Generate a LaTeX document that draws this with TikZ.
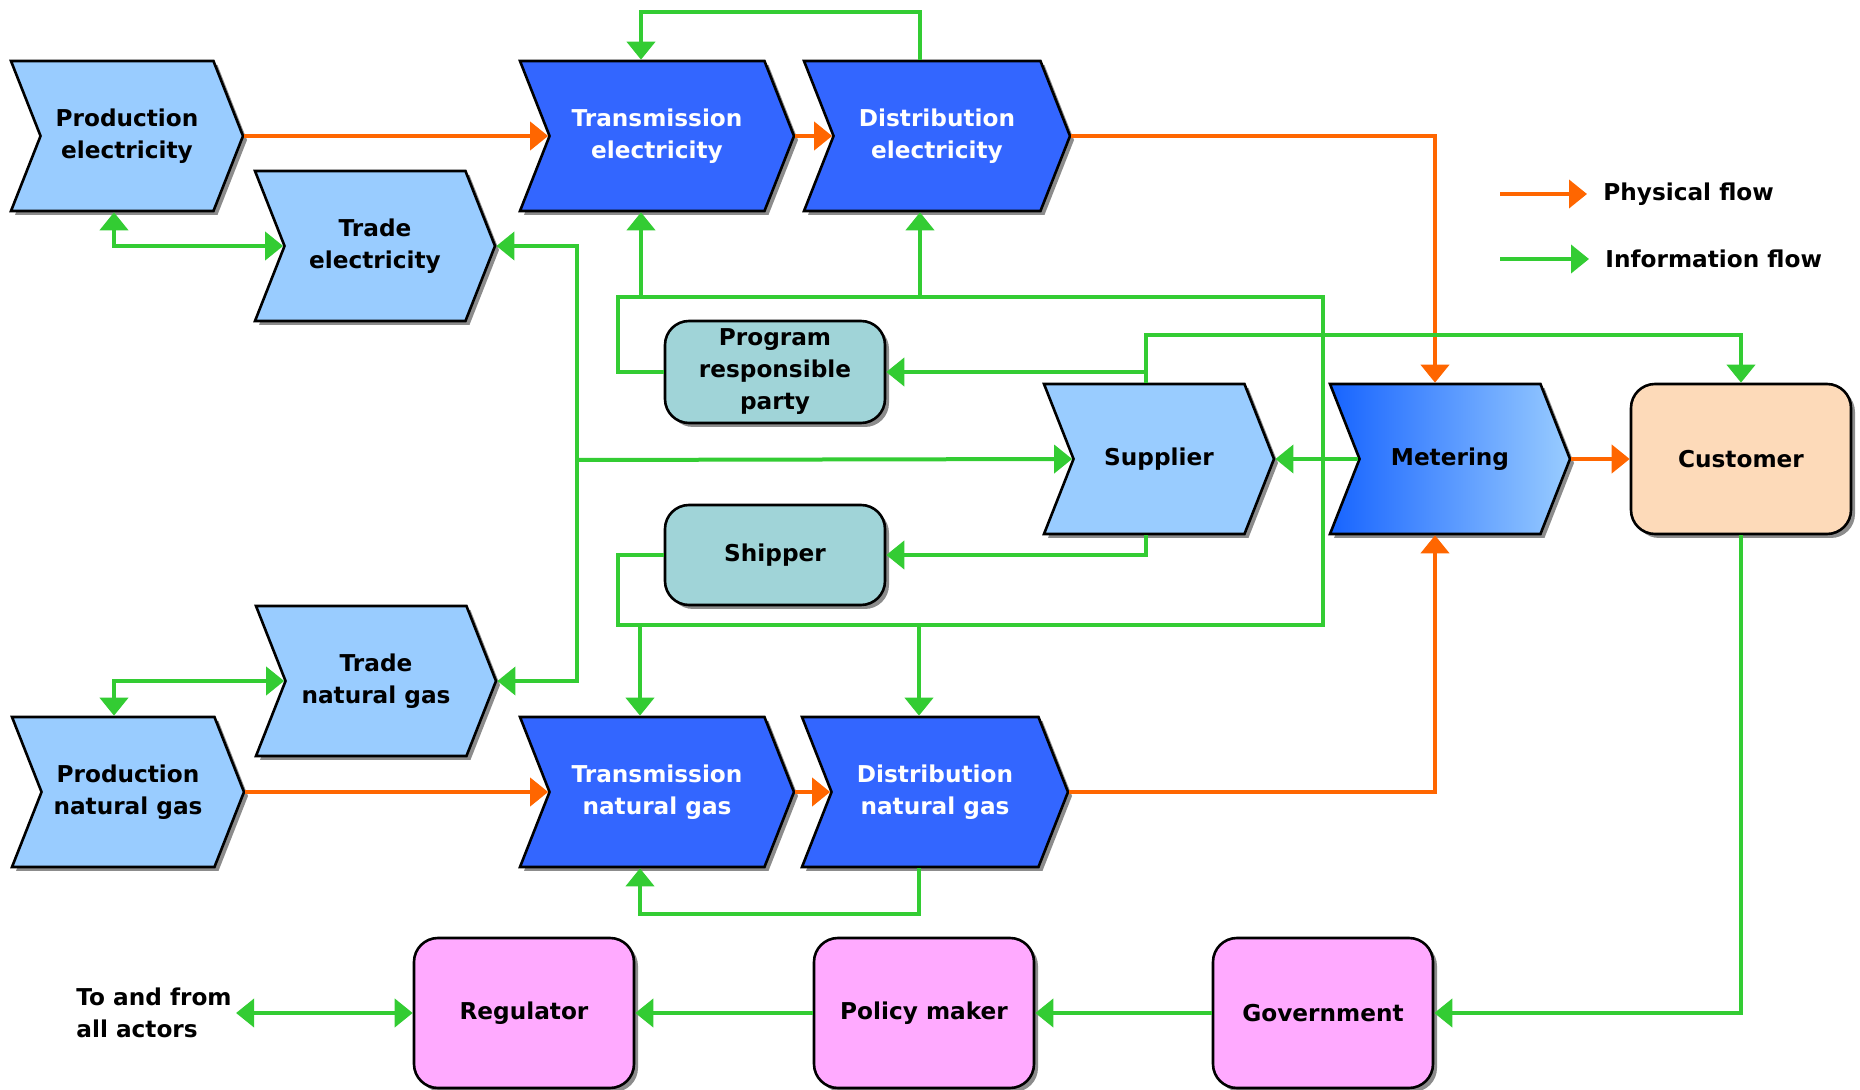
\documentclass[tikz,border=0pt]{standalone}
\usepackage{fontspec}
\setmainfont{DejaVu Sans}
\usepackage{tikz}
\usetikzlibrary{shapes.symbols,shadows,arrows.meta}

\definecolor{paleblue}{HTML}{99CCFF}
\definecolor{deepblue}{HTML}{3366FF}
\definecolor{meterblue}{HTML}{1764FF}
\definecolor{agentteal}{HTML}{A0D4D8}
\definecolor{custpeach}{HTML}{FDDAB9}
\definecolor{govpink}{HTML}{FFAAFF}
\definecolor{physorange}{HTML}{FF6600}
\definecolor{infogreen}{HTML}{33CC33}

\begin{document}
\begin{tikzpicture}[x=0.5pt, y=-0.5pt, align=center, font=\bfseries\fontsize{11.6pt}{16pt}\selectfont, >={Triangle[width=14pt, length=9pt]},
		boxshadow/.style={drop shadow={shadow xshift=2pt, shadow yshift=-2pt, fill=black!45, opacity=1}},
		chevron/.style={signal, signal from=west, signal to=east, signal pointer angle=137, draw=black, line width=1.3pt, minimum height=75pt, boxshadow},
		actor/.style={rectangle, rounded corners=12pt, draw=black, line width=1.3pt, minimum width=110pt, boxshadow},
		physical/.style={draw=physorange, line width=2pt},
		info/.style={draw=infogreen, line width=2pt}]
		\useasboundingbox (0,0) rectangle (1860,1090);

		\node (prod-elec) at (127, 136) [chevron, fill=paleblue, minimum width=116pt] {Production\\electricity};
		\node (trade-elec) at (375, 246) [chevron, fill=paleblue, minimum width=120pt] {Trade\\electricity};
		\node (trans-elec) at (657, 136) [chevron, fill=deepblue, text=white, minimum width=137pt] {Transmission\\electricity};
		\node (dist-elec) at (937, 136) [chevron, fill=deepblue, text=white, minimum width=133pt] {Distribution\\electricity};
		\node (supplier) at (1159, 459) [chevron, fill=paleblue, minimum width=115pt] {Supplier};
		\node (metering) at (1450, 459) [chevron, left color=meterblue, right color=paleblue, minimum width=120pt] {Metering};
		\node (trade-gas) at (376, 681) [chevron, fill=paleblue, minimum width=120pt] {Trade\\natural gas};
		\node (prod-gas) at (128, 792) [chevron, fill=paleblue, minimum width=116pt] {Production\\natural gas};
		\node (trans-gas) at (657, 792) [chevron, fill=deepblue, text=white, minimum width=137pt] {Transmission\\natural gas};
		\node (dist-gas) at (935, 792) [chevron, fill=deepblue, text=white, minimum width=133pt] {Distribution\\natural gas};

		\node (program) at (775, 372) [actor, fill=agentteal, minimum height=51pt] {Program\\responsible\\party};
		\node (shipper) at (775, 555) [actor, fill=agentteal, minimum height=50pt] {Shipper};
		\node (customer) at (1741, 459) [actor, fill=custpeach, minimum height=75pt] {Customer};
		\node (regulator) at (524, 1013) [actor, fill=govpink, minimum height=75pt] {Regulator};
		\node (policy) at (924, 1013) [actor, fill=govpink, minimum height=75pt] {Policy maker};
		\node (government) at (1323, 1013) [actor, fill=govpink, minimum height=75pt] {Government};
		\node (actors) at (72, 1013) [anchor=west, align=left, inner sep=2pt] {To and from\\all actors};

		\node (phys-label) at (1603, 194) [anchor=west, inner sep=0pt] {Physical flow};
		\node (info-label) at (1605, 259) [anchor=west, inner sep=0pt] {Information flow};
		\coordinate (phys-start) at (1500, 194);
		\coordinate (info-start) at (1500, 259);

		\coordinate (bus-nw) at (618, 297);
		\coordinate (bus-ne) at (1323, 297);
		\coordinate (bus-se) at (1323, 625);
		\coordinate (bus-sw) at (618, 625);
		\coordinate (trunk) at (577, 460);

		\draw[physical,->] (prod-elec.east) -- (trans-elec.west);
		\draw[physical,->] (trans-elec.east) -- (dist-elec.west);
		\draw[physical,->] (dist-elec.east) -| ([xshift=-7.5pt]metering.north);
		\draw[physical,->] (prod-gas.east) -- (trans-gas.west);
		\draw[physical,->] (trans-gas.east) -- (dist-gas.west);
		\draw[physical,->] (dist-gas.east) -| ([xshift=-7.5pt]metering.south);
		\draw[physical,->] (metering.east) -- (customer.west);

		\draw[info,<->] ([xshift=-6.5pt]prod-elec.south) |- (trade-elec.west);
		\draw[info,<->] ([xshift=-7pt]prod-gas.north) |- (trade-gas.west);
		\draw[info,->] ([xshift=-8.5pt]dist-elec.north) -- ++(0,-48) -| ([xshift=-8pt]trans-elec.north);
		\draw[info,->] ([xshift=-8pt]dist-gas.south) -- ++(0,46) -| ([xshift=-8.5pt]trans-gas.south);
		\draw[info] (program.west) -| (bus-nw) -- (bus-ne) -- (bus-se) -- (bus-sw) |- (shipper.west);
		\draw[info,->] ([xshift=-8pt]trans-elec.south |- bus-nw) -- ([xshift=-8pt]trans-elec.south);
		\draw[info,->] ([xshift=-8.5pt]dist-elec.south |- bus-nw) -- ([xshift=-8.5pt]dist-elec.south);
		\draw[info,->] ([xshift=-8.5pt]trans-gas.north |- bus-sw) -- ([xshift=-8.5pt]trans-gas.north);
		\draw[info,->] ([xshift=-8pt]dist-gas.north |- bus-sw) -- ([xshift=-8pt]dist-gas.north);
		\draw[info,->] (trunk) |- (trade-elec.east);
		\draw[info,->] (trunk) |- (trade-gas.east);
		\draw[info,->] (trunk) -- (supplier.west);
		\draw[info,->] ([xshift=-6.5pt]supplier.north) |- (program.east);
		\draw[info,->] ([xshift=-6.5pt]supplier.north) -- ++(0,-48) -| (customer.north);
		\draw[info,->] ([xshift=-6.5pt]supplier.south) |- (shipper.east);
		\draw[info,->] (metering.west) -- (supplier.east);
		\draw[info,->] (customer.south) |- (government.east);
		\draw[info,->] (government.west) -- (policy.east);
		\draw[info,->] (policy.west) -- (regulator.east);
		\draw[info,<->] (actors.east) -- (regulator.west);

		\draw[physical,->, shorten >=8pt] (phys-start) -- (phys-label.west);
		\draw[info,->, shorten >=8pt] (info-start) -- (info-label.west);
	\end{tikzpicture}
\end{document}
